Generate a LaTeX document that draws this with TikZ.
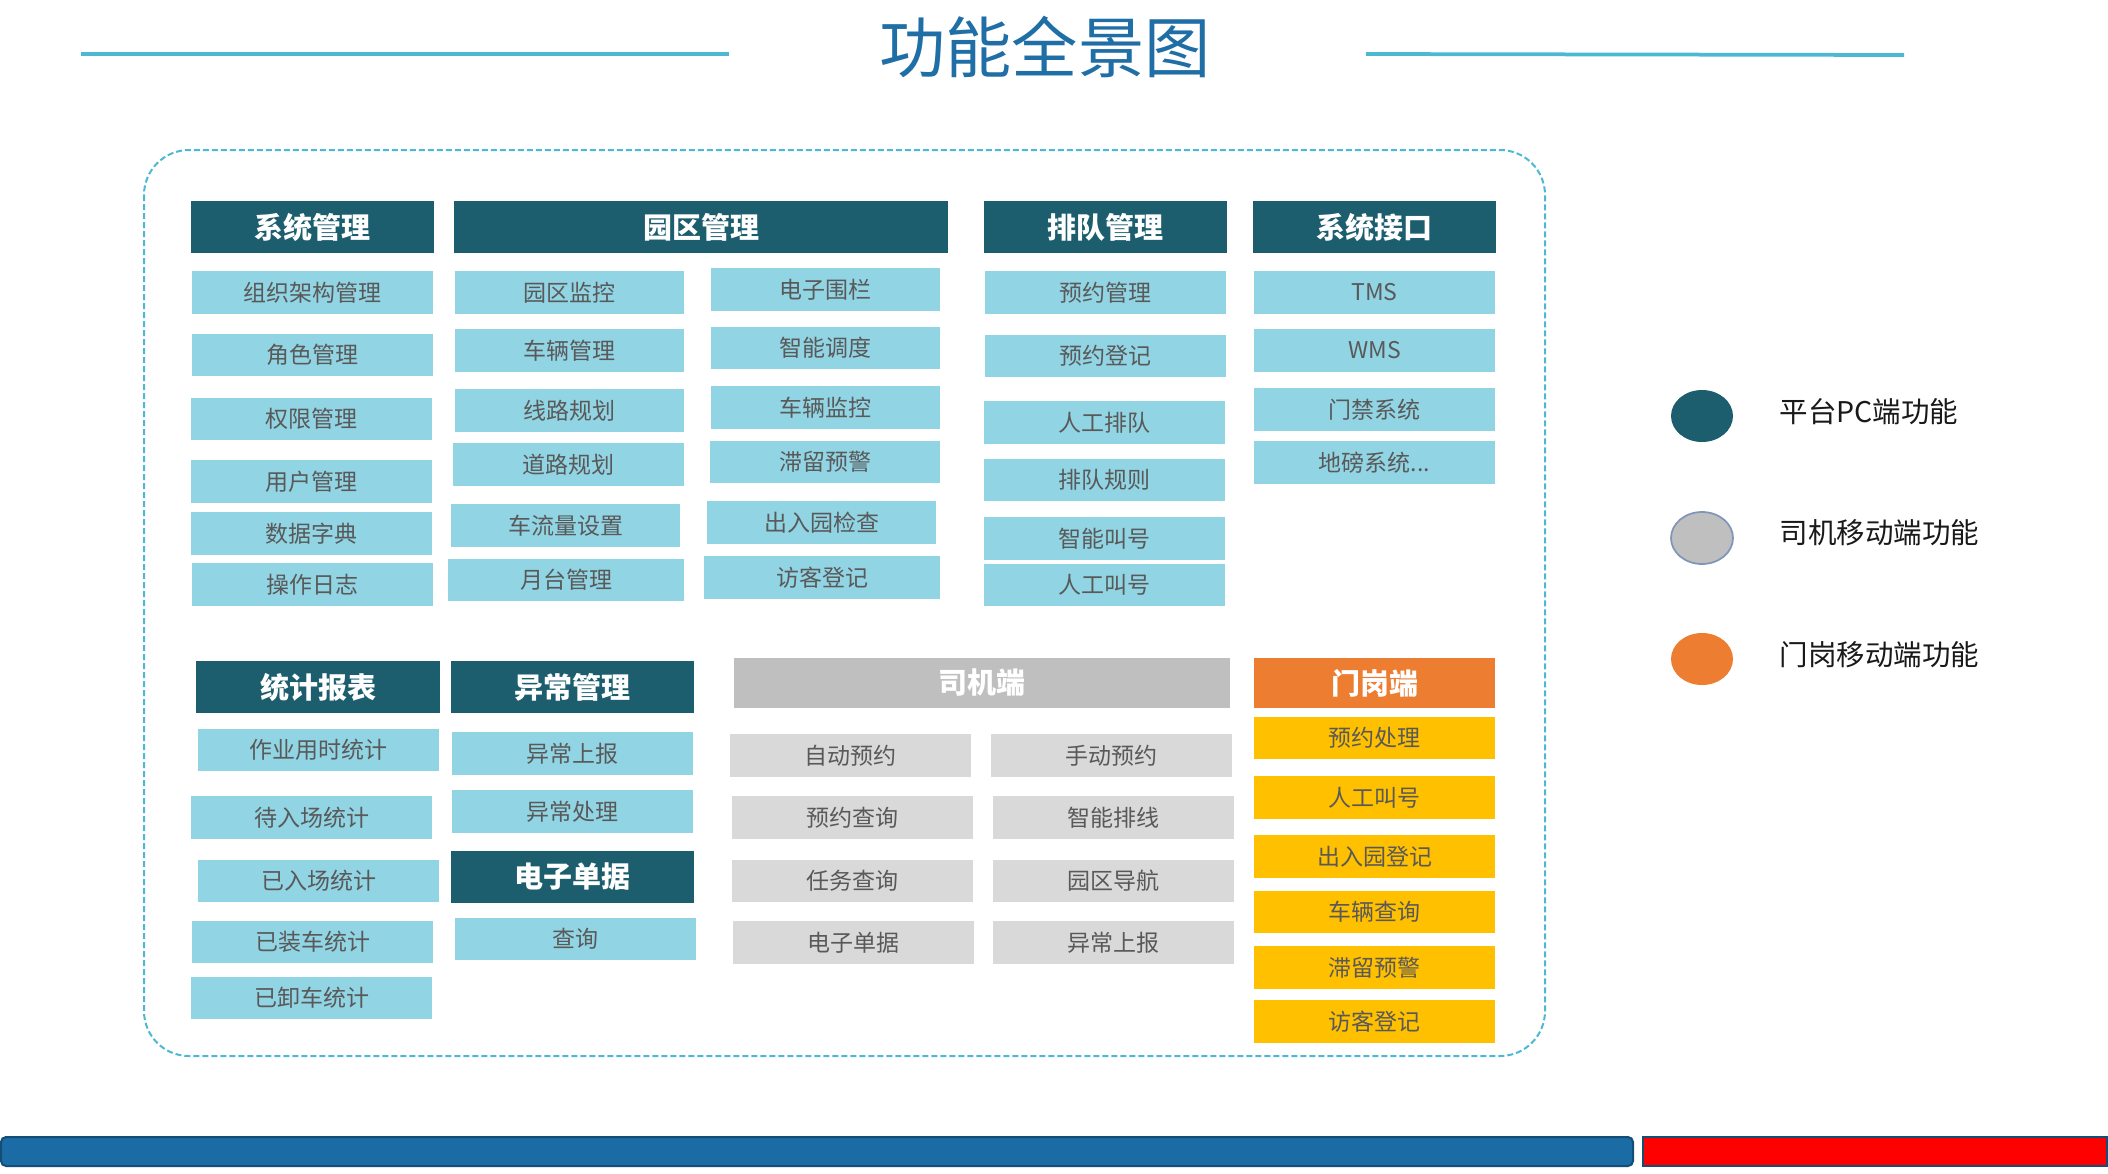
\documentclass[tikz,border=0pt]{standalone}
\usepackage{fontspec}
\setmainfont{Noto Sans CJK SC}
\usetikzlibrary{shapes.geometric}
\definecolor{hdr}{RGB}{29,94,110}
\definecolor{itm}{RGB}{145,212,227}
\definecolor{itxt}{RGB}{89,89,89}
\definecolor{ghdr}{RGB}{191,191,191}
\definecolor{gitm}{RGB}{217,217,217}
\definecolor{ohdr}{RGB}{237,125,49}
\definecolor{yitm}{RGB}{255,192,0}
\definecolor{ttl}{RGB}{31,110,166}
\definecolor{lne}{RGB}{75,185,210}
\definecolor{barblue}{RGB}{27,108,164}
\definecolor{barborder}{RGB}{20,78,120}
\definecolor{legborder}{RGB}{128,150,185}
\newcommand\bx[7]{\node[#1, minimum width={(#4-#2)*0.4pt}, minimum height={(#5-#3)*0.4pt}] (#6) at ({(#2+#4)/2},{(#3+#5)/2}) {#7};}
\tikzset{
  box/.style={inner sep=0pt, outer sep=0pt, anchor=center},
  hd/.style={box, fill=hdr, text=white, font=\fontsize{11.6pt}{12pt}\selectfont\bfseries},
  ghd/.style={hd, fill=ghdr},
  ohd/.style={hd, fill=ohdr},
  it/.style={box, fill=itm, text=itxt, font=\fontsize{9.2pt}{10pt}\selectfont},
  git/.style={it, fill=gitm},
  yit/.style={it, fill=yitm},
  legdot/.style={ellipse, inner sep=0pt, minimum width=24.8pt, minimum height=20.8pt},
  legtxt/.style={anchor=west, inner sep=0pt, text=black!90, font=\fontsize{11.4pt}{12pt}\selectfont},
  hline/.style={draw=lne, line width=1.5pt}
}
\begin{document}
\begin{tikzpicture}[x=0.4pt, y=-0.4pt]
\useasboundingbox (0,0) rectangle (2108,1174);
% title
\node[inner sep=0pt, text=ttl, font=\fontsize{26.5pt}{28pt}\selectfont] (title) at (1045,47) {功能全景图};
\coordinate (l1) at (81,54); \coordinate (l2) at (729,54);
\coordinate (r1) at (1366,54); \coordinate (r2) at (1904,55);
\draw[hline] (l1) -- (l2);
\draw[hline] (r1) -- (r2);
% dashed frame
\draw[lne, line width=0.8pt, dash pattern=on 2.4pt off 1.2pt, rounded corners=18pt] (144,150) rectangle (1545,1056);
% top headers
\bx{hd}{191}{201}{434}{253}{h1}{系统管理}
\bx{hd}{454}{201}{948}{253}{h2}{园区管理}
\bx{hd}{984}{201}{1227}{253}{h3}{排队管理}
\bx{hd}{1253}{201}{1496}{253}{h4}{系统接口}
% 系统管理
\bx{it}{192}{271}{433}{314}{a1}{组织架构管理}
\bx{it}{192}{334}{433}{376}{a2}{角色管理}
\bx{it}{191}{398}{432}{440}{a3}{权限管理}
\bx{it}{191}{460}{432}{503}{a4}{用户管理}
\bx{it}{191}{512}{432}{555}{a5}{数据字典}
\bx{it}{192}{563}{433}{606}{a6}{操作日志}
% 园区管理 left
\bx{it}{455}{271}{684}{314}{b1}{园区监控}
\bx{it}{455}{329}{684}{372}{b2}{车辆管理}
\bx{it}{455}{389}{684}{432}{b3}{线路规划}
\bx{it}{453}{443}{684}{486}{b4}{道路规划}
\bx{it}{451}{504}{680}{547}{b5}{车流量设置}
\bx{it}{448}{559}{684}{601}{b6}{月台管理}
% 园区管理 right
\bx{it}{711}{268}{940}{311}{c1}{电子围栏}
\bx{it}{711}{327}{940}{369}{c2}{智能调度}
\bx{it}{711}{386}{940}{429}{c3}{车辆监控}
\bx{it}{710}{441}{940}{483}{c4}{滞留预警}
\bx{it}{707}{501}{936}{544}{c5}{出入园检查}
\bx{it}{704}{556}{940}{599}{c6}{访客登记}
% 排队管理
\bx{it}{985}{271}{1226}{314}{d1}{预约管理}
\bx{it}{985}{335}{1226}{377}{d2}{预约登记}
\bx{it}{984}{401}{1225}{444}{d3}{人工排队}
\bx{it}{984}{459}{1225}{501}{d4}{排队规则}
\bx{it}{984}{517}{1225}{560}{d5}{智能叫号}
\bx{it}{984}{564}{1225}{606}{d6}{人工叫号}
% 系统接口
\bx{it}{1254}{271}{1495}{314}{e1}{TMS}
\bx{it}{1254}{329}{1495}{372}{e2}{WMS}
\bx{it}{1254}{388}{1495}{431}{e3}{门禁系统}
\bx{it}{1254}{441}{1495}{484}{e4}{地磅系统...}
% bottom headers
\bx{hd}{196}{661}{440}{713}{h5}{统计报表}
\bx{hd}{451}{661}{694}{713}{h6}{异常管理}
\bx{ghd}{734}{658}{1230}{708}{h7}{司机端}
\bx{ohd}{1254}{658}{1495}{708}{h8}{门岗端}
% 统计报表
\bx{it}{198}{729}{439}{771}{f1}{作业用时统计}
\bx{it}{191}{796}{432}{839}{f2}{待入场统计}
\bx{it}{198}{860}{439}{902}{f3}{已入场统计}
\bx{it}{192}{921}{433}{963}{f4}{已装车统计}
\bx{it}{191}{977}{432}{1019}{f5}{已卸车统计}
% 异常管理 / 电子单据
\bx{it}{452}{732}{693}{775}{g1}{异常上报}
\bx{it}{452}{790}{693}{833}{g2}{异常处理}
\bx{hd}{451}{851}{694}{903}{h9}{电子单据}
\bx{it}{455}{918}{696}{960}{g3}{查询}
% 司机端
\bx{git}{730}{734}{971}{777}{k1}{自动预约}
\bx{git}{991}{734}{1232}{777}{k2}{手动预约}
\bx{git}{732}{796}{973}{839}{k3}{预约查询}
\bx{git}{993}{796}{1234}{839}{k4}{智能排线}
\bx{git}{732}{860}{973}{902}{k5}{任务查询}
\bx{git}{993}{860}{1234}{902}{k6}{园区导航}
\bx{git}{733}{921}{974}{964}{k7}{电子单据}
\bx{git}{993}{921}{1234}{964}{k8}{异常上报}
% 门岗端
\bx{yit}{1254}{717}{1495}{759}{m1}{预约处理}
\bx{yit}{1254}{776}{1495}{819}{m2}{人工叫号}
\bx{yit}{1254}{835}{1495}{878}{m3}{出入园登记}
\bx{yit}{1254}{891}{1495}{933}{m4}{车辆查询}
\bx{yit}{1254}{946}{1495}{989}{m5}{滞留预警}
\bx{yit}{1254}{1000}{1495}{1043}{m6}{访客登记}
% legend
\node[legdot, fill=hdr] (lg1) at (1702,416) {};
\node[legdot, fill=ghdr, draw=legborder, line width=0.7pt] (lg2) at (1702,538) {};
\node[legdot, fill=ohdr] (lg3) at (1702,659) {};
\node[legtxt] (lt1) at (1779,412) {平台PC端功能};
\node[legtxt] (lt2) at (1779,533) {司机移动端功能};
\node[legtxt] (lt3) at (1779,655) {门岗移动端功能};
% bottom bars
\draw[barborder, fill=barblue, line width=0.8pt, rounded corners=2pt] (1,1137) rectangle (1633,1166);
\draw[barborder, fill=red, line width=0.8pt] (1643,1137) rectangle (2107,1166);
\end{tikzpicture}
\end{document}
